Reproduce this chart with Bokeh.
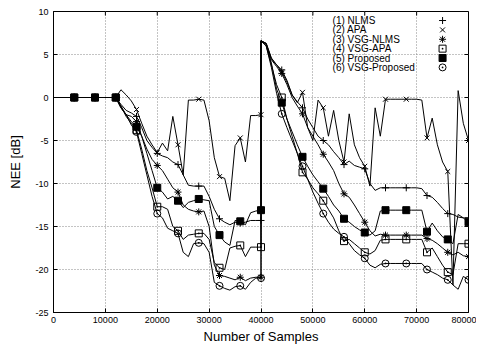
from bokeh.plotting import figure
from bokeh.models import FixedTicker, Range1d
from bokeh.core.properties import value
from bokeh.embed import file_html
from bokeh.resources import INLINE

# sample positions: first half up to the system change at 40000, second half after it
samples = list(range(0, 40001, 1000)) + list(range(40000, 80001, 1000))

x_ticks = [0, 10000, 20000, 30000, 40000, 50000, 60000, 70000, 80000]
y_ticks = [-25, -20, -15, -10, -5, 0, 5, 10]

labels = ["(1) NLMS", "(2) APA", "(3) VSG-NLMS", "(4) VSG-APA", "(5) Proposed", "(6) VSG-Proposed"]

nlms = [0, 0, 0, 0, 0, 0, 0, 0, 0, 0, 0, 0, 0,
        -0.8, -1.5, -1.8, -2.2, -3.5, -5.0, -5.8, -6.5, -6.8, -7.0, -7.5, -7.8, -9.0, -10.2,
        -10.3, -10.3, -10.3, -11.5, -13.0, -14.1, -14.5, -14.8, -14.5, -14.6, -14.5, -14.3, -14.3, -14.3,
        6.6, 6.3, 4.5, 3.8, 3.2, 2.0, 0.3, -0.5, -1.2, -2.5, -3.5, -4.5, -5.0, -5.5, -6.3, -7.0,
        -7.8, -7.4, -7.9, -8.1, -8.3, -10.0, -10.8, -10.5, -10.5, -10.5, -10.5, -10.5, -10.5, -10.5,
        -10.5, -10.6, -11.4, -11.6, -12.2, -12.9, -13.5, -13.6, -13.9, -14.0, -14.0]

apa = [0, 0, 0, 0, 0, 0, 0, 0, 0, 0, 0, 0, 0,
       0.9, 0.3, -0.4, -1.4, -3.0, -4.5, -5.5, -6.4, -5.3, -6.2, -2.2, -5.5, -9.0, -0.3,
       -0.3, -0.2, -0.3, -2.7, -7.0, -9.2, -9.4, -12.0, -5.6, -4.7, -7.5, -2.1, -2.1, -2.0,
       6.6, 6.3, 4.6, 3.8, 3.0, 1.8, 0.3, -0.6, 0.6, -3.5, -5.0, -0.3, -1.2, -4.5, -1.5, -5.0,
       -7.5, -1.9, -5.5, -7.0, -8.0, -10.3, -1.2, -4.5, -0.2, -0.2, -0.2, -0.2, -0.2, -0.2, -0.2,
       -0.3, -4.7, -2.4, -5.5, -7.5, -8.6, -21.8, 0.8, -3.0, -5.0]

vsg_nlms = [0, 0, 0, 0, 0, 0, 0, 0, 0, 0, 0, 0, 0,
            -1.2, -2.0, -2.2, -2.8, -4.5, -6.0, -7.2, -7.9, -8.5, -9.5, -10.5, -11.0, -12.5, -13.0,
            -13.2, -13.3, -13.2, -15.0, -19.5, -20.7, -20.8, -21.0, -21.2, -20.9, -21.3, -21.0, -20.9, -20.9,
            6.6, 6.2, 4.4, 3.6, 2.8, 1.5, 0.0, -1.0, -1.9, -3.5, -4.5, -5.5, -6.6, -7.5, -8.5, -10.0,
            -11.2, -11.6, -12.5, -13.5, -14.5, -15.5, -16.1, -15.9, -16.0, -16.0, -16.0, -16.0, -16.0, -16.0,
            -16.0, -16.0, -16.4, -16.6, -17.0, -17.5, -18.0, -18.3, -18.0, -18.4, -18.5]

vsg_apa = [0, 0, 0, 0, 0, 0, 0, 0, 0, 0, 0, 0, 0,
           -1.0, -2.2, -3.0, -3.8, -6.0, -8.5, -10.5, -12.7, -12.7, -13.0, -15.0, -15.5, -16.5, -16.0,
           -15.9, -15.8, -15.8, -16.5, -19.2, -19.8, -20.0, -17.5, -17.3, -17.2, -18.5, -17.4, -17.4, -17.4,
           6.6, 6.0, 3.8, 1.5, 0.0, -2.5, -4.5, -6.5, -8.7, -9.5, -10.5, -11.2, -12.0, -13.0, -14.0, -15.5,
           -16.7, -16.5, -17.0, -17.5, -18.0, -18.2, -17.8, -16.6, -16.5, -16.5, -16.5, -16.5, -16.5, -16.5,
           -16.5, -16.5, -18.0, -17.5, -18.5, -19.5, -20.3, -20.6, -17.0, -17.0, -17.0]

proposed = [0, 0, 0, 0, 0, 0, 0, 0, 0, 0, 0, 0, 0,
            -1.0, -2.0, -2.8, -3.4, -4.5, -6.5, -8.5, -10.5, -11.0, -11.8, -11.5, -12.0, -12.8, -12.2,
            -12.0, -11.8, -11.9, -12.0, -15.0, -16.0, -16.8, -17.2, -14.3, -14.4, -14.8, -13.4, -13.2, -13.1,
            6.6, 6.2, 4.0, 1.0, -0.6, -2.5, -4.0, -5.5, -6.9, -8.0, -9.0, -9.8, -10.6, -11.5, -12.5, -13.2,
            -14.1, -14.5, -15.0, -15.4, -15.7, -16.0, -15.5, -13.2, -13.1, -13.1, -13.1, -13.1, -13.1, -13.1,
            -13.1, -13.1, -15.6, -14.6, -15.5, -16.2, -16.5, -17.0, -13.6, -14.0, -14.5]

vsg_proposed = [0, 0, 0, 0, 0, 0, 0, 0, 0, 0, 0, 0, 0,
                -1.2, -2.0, -3.2, -4.0, -6.5, -9.0, -11.5, -13.5, -14.0, -15.2, -15.5, -15.8, -18.0, -18.5,
                -17.0, -16.9, -17.0, -18.0, -21.5, -21.9, -22.2, -22.4, -22.0, -21.9, -22.3, -21.5, -21.0, -21.0,
                6.6, 6.0, 3.5, 0.5, -1.9, -3.5, -5.0, -6.5, -8.0, -9.5, -11.0, -12.3, -13.5, -14.5, -15.3, -15.8,
                -16.2, -17.0, -17.8, -18.3, -18.7, -19.5, -19.8, -19.4, -19.3, -19.3, -19.3, -19.3, -19.3, -19.3,
                -19.3, -19.3, -20.0, -20.3, -20.6, -21.0, -21.2, -21.8, -22.3, -20.8, -21.2]

series = [nlms, apa, vsg_nlms, vsg_apa, proposed, vsg_proposed]
markers = ["cross", "x", "asterisk", "square_dot", "square", "circle_dot"]
fills = [None, None, None, None, "black", None]

FONT = "Liberation Sans"
FRAME_W, FRAME_H = 415, 301
X0, X1, Y0, Y1 = 0, 80000, -25, 10
TICK_PX = 4

p = figure(frame_width=FRAME_W, frame_height=FRAME_H,
           x_range=Range1d(X0, X1), y_range=Range1d(Y0, Y1),
           output_backend="svg", toolbar_location=None,
           min_border_left=53, min_border_right=8, min_border_top=11, min_border_bottom=0)
p.background_fill_color = "white"
p.border_fill_color = "white"
p.outline_line_color = "black"
p.outline_line_width = 1

for ax in (p.xaxis[0], p.yaxis[0]):
    ax.major_tick_in = TICK_PX
    ax.major_tick_out = 0
    ax.minor_tick_line_color = None
    ax.axis_line_color = "black"
    ax.major_label_text_font = FONT
    ax.major_label_text_font_size = "9px"
    ax.major_label_text_color = "black"
    ax.axis_label_text_font = FONT
    ax.axis_label_text_font_size = "13px"
    ax.axis_label_text_font_style = "normal"
    ax.axis_label_text_color = "black"

p.xaxis.ticker = FixedTicker(ticks=x_ticks)
p.yaxis.ticker = FixedTicker(ticks=y_ticks)
p.xaxis.major_label_overrides = {t: str(t) for t in x_ticks}
p.yaxis.major_label_overrides = {t: str(t) for t in y_ticks}
p.xaxis.axis_label = "Number of Samples"
p.yaxis.axis_label = "NEE [dB]"
p.xaxis.major_label_standoff = 4
p.xaxis.axis_label_standoff = 3
p.yaxis.major_label_standoff = 5
p.yaxis.axis_label_standoff = 9

p.xgrid.grid_line_color = "#888888"
p.ygrid.grid_line_color = "#888888"
p.xgrid.grid_line_dash = "1 2"
p.ygrid.grid_line_dash = "1 2"

# mirrored inward ticks on the top and right frame edges
dx = TICK_PX * (X1 - X0) / FRAME_W
dy = TICK_PX * (Y1 - Y0) / FRAME_H
p.segment(x0=[X1 - dx] * len(y_ticks), y0=y_ticks, x1=[X1] * len(y_ticks), y1=y_ticks,
          line_color="black", line_width=1)
p.segment(x0=x_ticks, y0=[Y1 - dy] * len(x_ticks), x1=x_ticks, y1=[Y1] * len(x_ticks),
          line_color="black", line_width=1)

for ys in series:
    p.line(samples, ys, line_color="black", line_width=1)

mk_idx = [i for i, s in enumerate(samples) if s > 0 and s % 4000 == 0 and i != 41]
order = [0, 1, 2, 3, 5, 4]
for k in order:
    ys = series[k]
    p.scatter([samples[i] for i in mk_idx], [ys[i] for i in mk_idx], marker=markers[k],
              size=7, line_color="black", line_width=1, fill_color=fills[k])

# key (text left, symbol right), placed in data space
key_text_x = 53800
key_mark_x = 75000
key_top = 8.95
key_step = 1.09
key_y = [key_top - i * key_step for i in range(len(labels))]
p.text([key_text_x] * len(labels), key_y, text=labels, text_font=value(FONT),
       text_font_size="10px", text_baseline="middle", text_align="left", text_color="black")
for k in range(len(labels)):
    p.scatter([key_mark_x], [key_y[k]], marker=markers[k], size=7, line_color="black",
              line_width=1, fill_color=fills[k])

open("out.html", "w").write(file_html(p, INLINE))
